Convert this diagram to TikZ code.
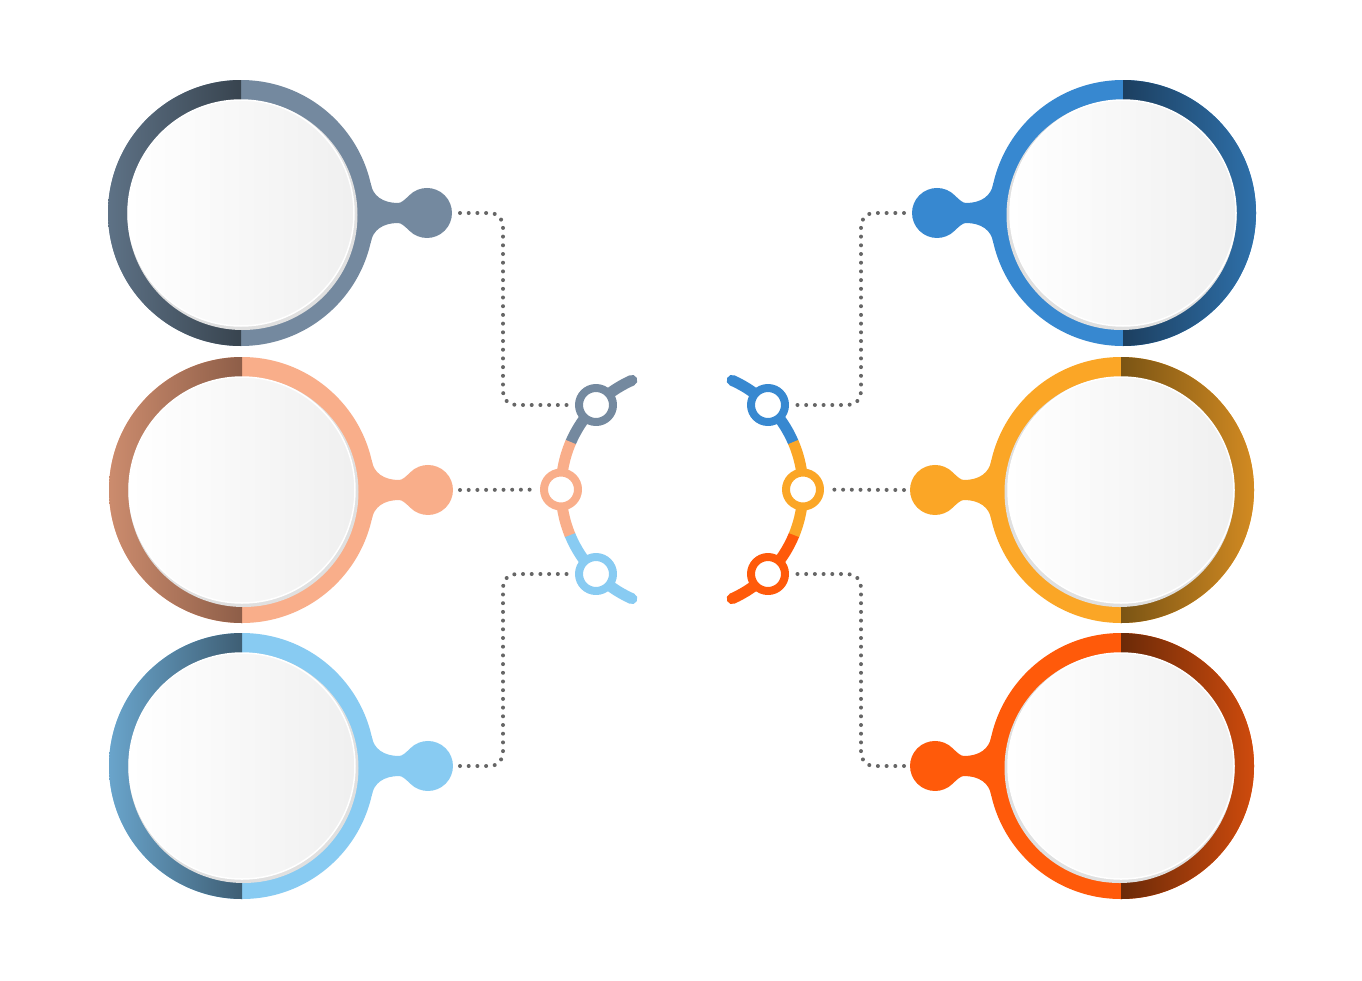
\documentclass[tikz,border=0pt]{standalone}
\definecolor{slate}{HTML}{74899F}
\definecolor{slateD}{HTML}{5E7286}
\definecolor{slateDD}{HTML}{38444F}
\definecolor{salmon}{HTML}{F9AE8A}
\definecolor{salmonD}{HTML}{CC8C6E}
\definecolor{salmonDD}{HTML}{8E5E48}
\definecolor{sky}{HTML}{88CBF2}
\definecolor{skyD}{HTML}{6AA5CC}
\definecolor{skyDD}{HTML}{3E5E74}
\definecolor{blue}{HTML}{3788D0}
\definecolor{blueD}{HTML}{2F71AB}
\definecolor{blueDD}{HTML}{1C3F60}
\definecolor{amber}{HTML}{FBA626}
\definecolor{amberD}{HTML}{D38B22}
\definecolor{amberDD}{HTML}{7A5414}
\definecolor{flame}{HTML}{FF5A0A}
\definecolor{flameD}{HTML}{CF4B0D}
\definecolor{flameDD}{HTML}{6B2A08}
\definecolor{dotgray}{HTML}{666666}
% #1,#2 centre, #3 light, #4 dark, #5 darkest, #6 side (1 left, -1 right)
\newcommand{\bubble}[6]{%
	\begin{scope}[shift={(#1,#2)},xscale=#6]
	\fill[#3] (0,0) circle[radius=133];
	\fill[#3]
	(129.6,-30) .. controls (131.5,-17) and (142,-10) .. (157,-10)
	.. controls (160,-10) and (163.3,-12.7) .. (168.3,-17.7)
	arc[start angle=225,end angle=495,radius=25]
	.. controls (163.3,12.7) and (160,10) .. (157,10)
	.. controls (142,10) and (131.5,17) .. (129.6,30) -- (100,0) -- cycle;
	\begin{scope}
		\clip (0,0) circle[radius=133];
		\ifnum#6>0
		\shade[left color=#4,middle color=#4,right color=#5] (-134,-134) rectangle (0,134);
		\else
		\shade[left color=#5,middle color=#4,right color=#4] (-134,-134) rectangle (0,134);
		\fi
	\end{scope}
	\fill[black!12] (1.5,2) circle[radius=115];
	\shade[left color=white,right color=black!6] (0,0) circle[radius=113];
	\draw[white,line width=1.5pt] (0,0) circle[radius=113];
	\end{scope}}
\begin{document}
\begin{tikzpicture}[x=1pt,y=-1pt,line join=round,
	dotline/.style={draw=dotgray,line width=4pt,line cap=round,dash pattern=on 0pt off 8.7pt,rounded corners=13pt},
	hub/.style={circle,draw=#1,fill=white,line width=8pt,minimum size=34pt,inner sep=0pt},
	band/.style={line width=11pt,draw=#1}]
	\fill[white] (0,0) rectangle (1362,980);
	\useasboundingbox (0,0) rectangle (1362,980);
	\path
	(680.5,489.5) coordinate (CL)
	(683.5,489.5) coordinate (CR)
	(460,213) coordinate (k1)
	(460,490) coordinate (k2)
	(460,766) coordinate (k3)
	(904,213) coordinate (k4)
	(904,490) coordinate (k5)
	(904,766) coordinate (k6)
	(503,300) coordinate (v1)
	(503,670) coordinate (v3)
	(861,300) coordinate (v4)
	(861,670) coordinate (v6)
	;
	% big rings
	\bubble{241}{213}{slate}{slateD}{slateDD}{1}
	\bubble{242}{490}{salmon}{salmonD}{salmonDD}{1}
	\bubble{242}{766}{sky}{skyD}{skyDD}{1}
	\bubble{1123}{213}{blue}{blueD}{blueDD}{-1}
	\bubble{1121}{490}{amber}{amberD}{amberDD}{-1}
	\bubble{1121}{766}{flame}{flameD}{flameDD}{-1}
	% arcs
	\draw[band=slate,line cap=round] (CL) ++(246:119.5) arc[start angle=246,end angle=203.4,radius=119.5];
	\draw[band=sky,line cap=round] (CL) ++(114:119.5) arc[start angle=114,end angle=157.6,radius=119.5];
	\draw[band=salmon] (CL) ++(203.4:119.5) arc[start angle=203.4,end angle=157.6,radius=119.5];
	\draw[band=blue,line cap=round] (CR) ++(-66:119.5) arc[start angle=-66,end angle=-23.4,radius=119.5];
	\draw[band=flame,line cap=round] (CR) ++(66:119.5) arc[start angle=66,end angle=22.4,radius=119.5];
	\draw[band=amber] (CR) ++(-23.4:119.5) arc[start angle=-23.4,end angle=22.4,radius=119.5];
	% hubs
	\node[hub=slate] (h1) at (596,405) {};
	\node[hub=salmon] (h2) at (561,489.5) {};
	\node[hub=sky] (h3) at (596,574) {};
	\node[hub=blue] (h4) at (768,405) {};
	\node[hub=amber] (h5) at (803,489.5) {};
	\node[hub=flame] (h6) at (768,574) {};
	% dotted links
	\draw[dotline,shorten >=5pt] (k1) -| (v1) |- (h1);
	\draw[dotline,shorten >=7pt] (k2) -- (h2);
	\draw[dotline,shorten >=5pt] (k3) -| (v3) |- (h3);
	\draw[dotline,shorten >=5pt] (k4) -| (v4) |- (h4);
	\draw[dotline,shorten >=7pt] (k5) -- (h5);
	\draw[dotline,shorten >=5pt] (k6) -| (v6) |- (h6);
\end{tikzpicture}
\end{document}
